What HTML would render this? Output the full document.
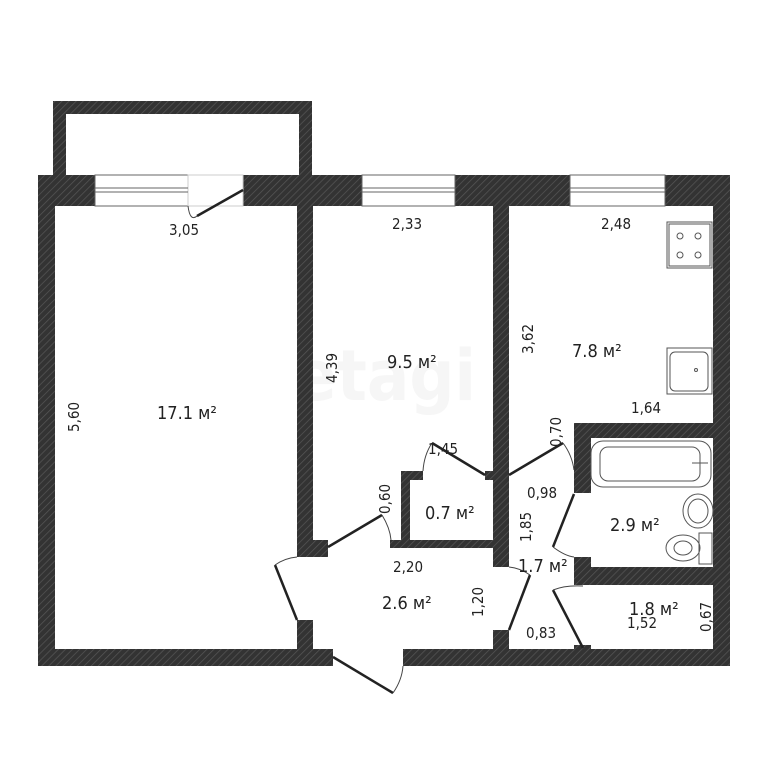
<!DOCTYPE html>
<html><head><meta charset="utf-8"><style>
html,body{margin:0;padding:0;background:#fff;width:768px;height:768px;overflow:hidden}
text{font-family:"DejaVu Sans Condensed","Liberation Sans",sans-serif;fill:#222}
</style></head><body>
<svg width="768" height="768" viewBox="0 0 768 768" xmlns="http://www.w3.org/2000/svg">
<defs>
<pattern id="h" width="5" height="5" patternUnits="userSpaceOnUse" patternTransform="rotate(45)">
<rect width="5" height="5" fill="#333"/><line x1="0" y1="0" x2="0" y2="5" stroke="#555" stroke-width="1.5"/>
</pattern>
</defs>
<text x="385" y="400" font-size="70" font-weight="bold" text-anchor="middle" style="fill:#f6f6f6">etagi</text>
<g fill="url(#h)">
<rect x="53" y="101" width="259" height="13"/>
<rect x="53" y="101" width="13" height="74"/>
<rect x="299" y="101" width="13" height="74"/>
<rect x="38" y="175" width="57" height="31"/>
<rect x="243" y="175" width="119" height="31"/>
<rect x="455" y="175" width="115" height="31"/>
<rect x="665" y="175" width="65" height="31"/>
<rect x="38" y="175" width="17" height="491"/>
<rect x="713" y="175" width="17" height="491"/>
<rect x="38" y="649" width="295" height="17"/>
<rect x="403" y="649" width="327" height="17"/>
<rect x="297" y="206" width="16" height="351"/>
<rect x="297" y="620" width="16" height="30"/>
<rect x="313" y="540" width="15" height="17"/>
<rect x="493" y="206" width="16" height="361"/>
<rect x="493" y="630" width="16" height="20"/>
<rect x="485" y="471" width="24" height="9"/>
<rect x="401" y="471" width="9" height="77"/>
<rect x="401" y="471" width="22" height="9"/>
<rect x="390" y="540" width="103" height="8"/>
<rect x="574" y="423" width="156" height="15"/>
<rect x="574" y="423" width="17" height="70"/>
<rect x="574" y="557" width="17" height="28"/>
<rect x="574" y="567" width="139" height="18"/>
<rect x="574" y="645" width="17" height="5"/>
</g>
<g fill="#fff" stroke="#666" stroke-width="1">
<rect x="95" y="175" width="93" height="31"/>
<rect x="362" y="175" width="93" height="31"/>
<rect x="570" y="175" width="95" height="31"/>
<rect x="188" y="175" width="55" height="31" stroke="#ccc"/>
</g>
<g stroke="#666" stroke-width="1">
<line x1="95" y1="188" x2="188" y2="188"/><line x1="95" y1="192" x2="188" y2="192"/>
<line x1="362" y1="188" x2="455" y2="188"/><line x1="362" y1="192" x2="455" y2="192"/>
<line x1="570" y1="188" x2="665" y2="188"/><line x1="570" y1="192" x2="665" y2="192"/>
</g>
<g fill="none" stroke="#222" stroke-width="2.5">
<line x1="243" y1="190" x2="197" y2="216"/>
<line x1="328" y1="547" x2="382" y2="515"/>
<line x1="432" y1="443" x2="485" y2="475"/>
<line x1="509" y1="475" x2="563" y2="443"/>
<line x1="574" y1="494" x2="553" y2="547"/>
<line x1="297" y1="620" x2="275" y2="565"/>
<line x1="509" y1="630" x2="530" y2="575"/>
<line x1="583" y1="648" x2="553" y2="590"/>
<line x1="333" y1="657" x2="393" y2="693"/>
</g>
<g fill="none" stroke="#444" stroke-width="1">
<path d="M188 206 Q190 222 197 216"/>
<path d="M382 515 Q390 528 391 540"/>
<path d="M432 443 Q424 455 423 471"/>
<path d="M563 443 Q572 455 574 470"/>
<path d="M553 547 Q565 556 574 557"/>
<path d="M275 565 Q285 558 297 557"/>
<path d="M530 575 Q520 568 509 567"/>
<path d="M553 590 Q565 585 583 586"/>
<path d="M393 693 Q402 680 403 666"/>
</g>
<g fill="none" stroke="#555" stroke-width="1">
<rect x="667" y="222" width="45" height="46"/><rect x="669" y="224" width="41" height="42"/>
<circle cx="680" cy="236" r="3"/><circle cx="698" cy="236" r="3"/><circle cx="680" cy="255" r="3"/><circle cx="698" cy="255" r="3"/>
<rect x="667" y="348" width="45" height="46"/><rect x="670" y="352" width="38" height="39" rx="5"/>
<circle cx="696" cy="370" r="1.5"/>
<rect x="591" y="441" width="120" height="46" rx="12"/><rect x="600" y="447" width="100" height="34" rx="8"/>
<line x1="700" y1="455" x2="700" y2="472"/><line x1="692" y1="463" x2="708" y2="463"/>
<ellipse cx="698" cy="511" rx="15" ry="17"/><ellipse cx="698" cy="511" rx="10" ry="12"/>
<rect x="699" y="533" width="13" height="31"/>
<ellipse cx="683" cy="548" rx="17" ry="13"/><ellipse cx="683" cy="548" rx="9" ry="7"/>
</g>
<g font-size="15">
<text x="169" y="235">3,05</text>
<text x="392" y="229">2,33</text>
<text x="601" y="229">2,48</text>
<text x="631" y="413">1,64</text>
<text x="527" y="498">0,98</text>
<text x="393" y="572">2,20</text>
<text x="526" y="638">0,83</text>
<text x="627" y="628">1,52</text>
<text x="428" y="454">1,45</text>
<text transform="translate(79,432) rotate(-90)">5,60</text>
<text transform="translate(337,383) rotate(-90)">4,39</text>
<text transform="translate(533,354) rotate(-90)">3,62</text>
<text transform="translate(561,447) rotate(-90)">0,70</text>
<text transform="translate(390,514) rotate(-90)">0,60</text>
<text transform="translate(531,542) rotate(-90)">1,85</text>
<text transform="translate(483,617) rotate(-90)">1,20</text>
<text transform="translate(711,632) rotate(-90)">0,67</text>
</g>
<g font-size="18">
<text x="157" y="419">17.1 м²</text>
<text x="387" y="368">9.5 м²</text>
<text x="572" y="357">7.8 м²</text>
<text x="425" y="519">0.7 м²</text>
<text x="610" y="531">2.9 м²</text>
<text x="518" y="572">1.7 м²</text>
<text x="382" y="609">2.6 м²</text>
<text x="629" y="615">1.8 м²</text>
</g>
</svg>
</body></html>
